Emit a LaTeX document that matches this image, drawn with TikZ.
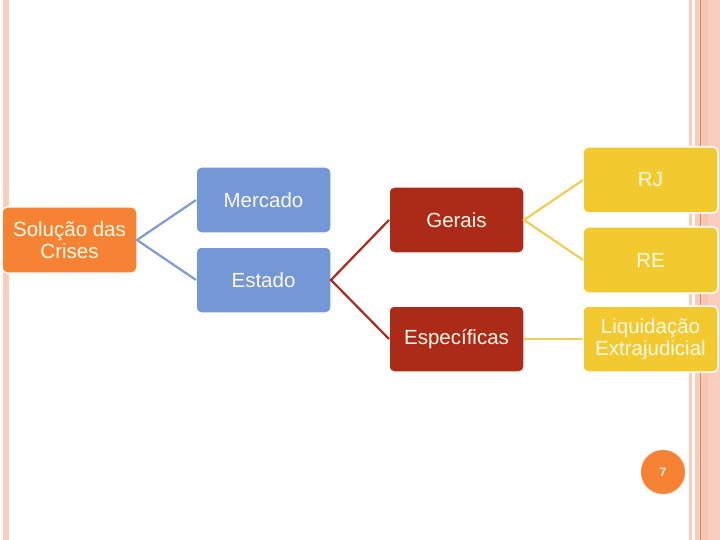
\documentclass[tikz,border=0pt]{standalone}
\usepackage{fontspec}
\setmainfont{Liberation Sans}
\usepackage{xcolor}
\usepackage{tikz}
\usetikzlibrary{positioning}
\definecolor{BarPink}{RGB}{251,205,190}
\definecolor{BarLine}{RGB}{232,128,80}
\definecolor{BoxOrange}{RGB}{246,131,52}
\definecolor{BoxBlue}{RGB}{116,151,213}
\definecolor{BoxRed}{RGB}{172,42,24}
\definecolor{BoxYellow}{RGB}{242,201,46}
\definecolor{LinkBlue}{RGB}{125,156,212}
\definecolor{LinkRed}{RGB}{168,44,30}
\definecolor{LinkYellow}{RGB}{240,206,84}
\definecolor{TextCream}{RGB}{255,249,232}

\begin{document}
\begin{tikzpicture}[
    x=1pt, y=-1pt,
    box/.style    = {rectangle, rounded corners=5pt,
                     draw=white, line width=1.5pt, outer sep=0pt,
                     minimum width=135pt, minimum height=66pt,
                     inner sep=2pt, text=TextCream, align=center,
                     font=\fontsize{20.5}{22}\selectfont},
    rootbox/.style   = {box, fill=BoxOrange},
    waybox/.style    = {box, fill=BoxBlue},
    kindbox/.style   = {box, fill=BoxRed},
    regimebox/.style = {box, fill=BoxYellow},
    link/.style   = {line width=2.2pt},
    pagenum/.style = {circle, fill=BoxOrange, draw=BoxOrange!70!white,
                      minimum size=44pt, inner sep=0pt, text=TextCream,
                      font=\fontsize{12}{12}\selectfont\bfseries},
]
\useasboundingbox (0,0) rectangle (720,540);
\fill[white] (0,0) rectangle (720,540);

% ─── Side bars ───────────────────────────────────────────────────────────
\fill[BarPink] (3,0) rectangle (9,540);
\fill[BarPink] (689,0) rectangle (692,540);
\fill[BarPink] (695,0) rectangle (720,540);
\fill[BarPink!90!BarLine] (703,0) rectangle (708,540);
\draw[BarLine, line width=0.8pt] (700,0) -- (700,540);

% ─── Root ────────────────────────────────────────────────────────────────
\node[rootbox] (crisis) at (69.5,240) {Solução das\\Crises};

% ─── Market or State ─────────────────────────────────────────────────────
\node[waybox, above right=7pt and 59pt of crisis.east] (mercado) {Mercado};
\node[waybox, below right=7pt and 59pt of crisis.east] (estado) {Estado};
\draw[link, LinkBlue] (mercado.west) -- (crisis.east) -- (estado.west);

% ─── General or specific ─────────────────────────────────────────────────
\node[kindbox, above right=27pt and 58pt of estado.east] (gerais) {Gerais};
\node[kindbox, below right=26pt and 58pt of estado.east] (especificas)
    {Específicas};
\draw[link, LinkRed] (gerais.west) -- (estado.east) -- (especificas.west);

% ─── Regimes ─────────────────────────────────────────────────────────────
\node[regimebox, above right=7pt and 59pt of gerais.east] (rj) {RJ};
\node[regimebox, below right=7pt and 59pt of gerais.east] (re) {RE};
\draw[link, LinkYellow] (rj.west) -- (gerais.east) -- (re.west);

\node[regimebox, right=59pt of especificas] (liquidacao)
    {Liquidação\\Extrajudicial};
\draw[link, LinkYellow] (especificas) -- (liquidacao);

% Page number
\node[pagenum] (page) at (663,472) {7};

\end{tikzpicture}
\end{document}
